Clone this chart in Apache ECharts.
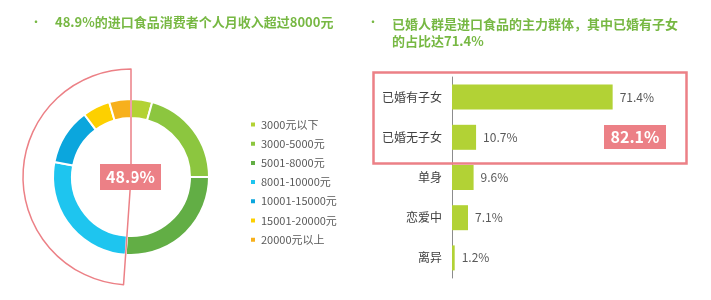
<!DOCTYPE html>
<html>
  <head>
    <meta charset="utf-8" />
    <title>进口食品消费者</title>
    <script src="https://cdn.jsdelivr.net/npm/echarts@6/dist/echarts.min.js"></script>
  </head>
  <body style="margin:0">
    <div id="main" style="width: 711px;height:300px;"></div>
    <script type="text/javascript">
      // 收入分布（%）
      var incomeLevels = ["3000元以下", "3000-5000元", "5001-8000元", "8001-10000元", "10001-15000元", "15001-20000元", "20000元以上"];
      var incomeShares = [4.4, 20.6, 26.1, 27.0, 11.7, 5.7, 4.5];
      // 婚姻状况（%）
      var statusNames = ["已婚有子女", "已婚无子女", "单身", "恋爱中", "离异"];
      var statusShares = [71.4, 10.7, 9.6, 7.1, 1.2];

      var incomeColors = ["#b3d234", "#8cc63f", "#62ae45", "#1ec5ef", "#0ba6dd", "#fdd000", "#f7b01c"];
      var pink = "#ec8086";
      var green = "#77b843";
      var font = "'Noto Sans CJK SC', sans-serif";

      // 8000元以上 = 后四档之和
      var highShare = 0;
      for (var i = 3; i < incomeShares.length; i++) highShare += incomeShares[i];
      var lowShare = 100 - highShare;
      var marriedShare = statusShares[0] + statusShares[1];

      var myChart = echarts.init(document.getElementById("main"));

      var option = {
        backgroundColor: "#fff",
        animation: false,
        color: incomeColors,
        legend: {
          orient: "vertical",
          left: 244,
          top: 114,
          icon: "rect",
          itemWidth: 6,
          itemHeight: 6,
          itemGap: 8.2,
          textStyle: { fontSize: 11, color: "#595959", fontFamily: font },
          data: incomeLevels
        },
        grid: {
          left: 452,
          right: 34,
          top: 77,
          height: 201
        },
        xAxis: {
          type: "value",
          min: 0,
          max: 100,
          show: false
        },
        yAxis: {
          type: "category",
          inverse: true,
          data: statusNames,
          axisLine: { lineStyle: { color: "#8c8c8c", width: 1 } },
          axisTick: { show: false },
          axisLabel: { fontSize: 12, color: "#404040", margin: 10, fontFamily: font }
        },
        graphic: [
          // 左标题
          { type: "text", left: 30, top: 16, style: { text: "•", fontSize: 12, fill: green, fontFamily: font } },
          {
            type: "text",
            left: 55,
            top: 16,
            style: {
              text: highShare.toFixed(1) + "%的进口食品消费者个人月收入超过8000元",
              fontSize: 13,
              fontWeight: "bold",
              fill: green,
              fontFamily: font
            }
          },
          // 右标题
          { type: "text", left: 367, top: 16, style: { text: "•", fontSize: 12, fill: green, fontFamily: font } },
          {
            type: "text",
            left: 392,
            top: 16,
            style: {
              text: "已婚人群是进口食品的主力群体，其中已婚有子女\n的占比达" + statusShares[0] + "%",
              fontSize: 13,
              lineHeight: 17,
              fontWeight: "bold",
              fill: green,
              fontFamily: font
            }
          },
          // 中心标签
          {
            type: "group",
            left: 100,
            top: 164,
            z: 100,
            children: [
              { type: "rect", shape: { x: 0, y: 0, width: 61, height: 26 }, style: { fill: pink } },
              {
                type: "text",
                x: 30.5,
                y: 13,
                style: {
                  text: highShare.toFixed(1) + "%",
                  fontSize: 16,
                  fontWeight: "bold",
                  fill: "#fff",
                  align: "center",
                  verticalAlign: "middle",
                  fontFamily: font
                }
              }
            ]
          },
          // 已婚框
          {
            type: "rect",
            left: 371,
            top: 70,
            z: 100,
            shape: { width: 313, height: 91 },
            style: { fill: "none", stroke: pink, lineWidth: 2.5 }
          },
          {
            type: "group",
            left: 604,
            top: 125,
            z: 100,
            children: [
              { type: "rect", shape: { x: 0, y: 0, width: 62, height: 24 }, style: { fill: pink } },
              {
                type: "text",
                x: 31,
                y: 12,
                style: {
                  text: marriedShare.toFixed(1) + "%",
                  fontSize: 16,
                  fontWeight: "bold",
                  fill: "#fff",
                  align: "center",
                  verticalAlign: "middle",
                  fontFamily: font
                }
              }
            ]
          }
        ],
        series: [
          {
            name: "收入",
            type: "pie",
            center: [131, 177],
            radius: [59, 78],
            startAngle: 90,
            clockwise: true,
            label: { show: false },
            labelLine: { show: false },
            emphasis: { disabled: true },
            itemStyle: { borderColor: "#fff", borderWidth: 2 },
            data: incomeLevels.map(function (name, i) {
              return { name: name, value: incomeShares[i] };
            })
          },
          {
            name: "8000以上",
            type: "pie",
            center: [131, 177],
            radius: [0, 108],
            startAngle: 90,
            clockwise: true,
            silent: true,
            z: 5,
            label: { show: false },
            labelLine: { show: false },
            data: [
              { value: lowShare, itemStyle: { color: "transparent", borderWidth: 0 } },
              { value: highShare, itemStyle: { color: "transparent", borderColor: pink, borderWidth: 1.5 } }
            ]
          },
          {
            name: "婚姻状况",
            type: "bar",
            barWidth: 25,
            itemStyle: { color: "#b2d235" },
            label: {
              show: true,
              position: "right",
              distance: 7,
              formatter: "{c}%",
              fontSize: 12,
              color: "#595959",
              fontFamily: font
            },
            data: statusShares
          }
        ]
      };

      myChart.setOption(option);
    </script>
  </body>
</html>
